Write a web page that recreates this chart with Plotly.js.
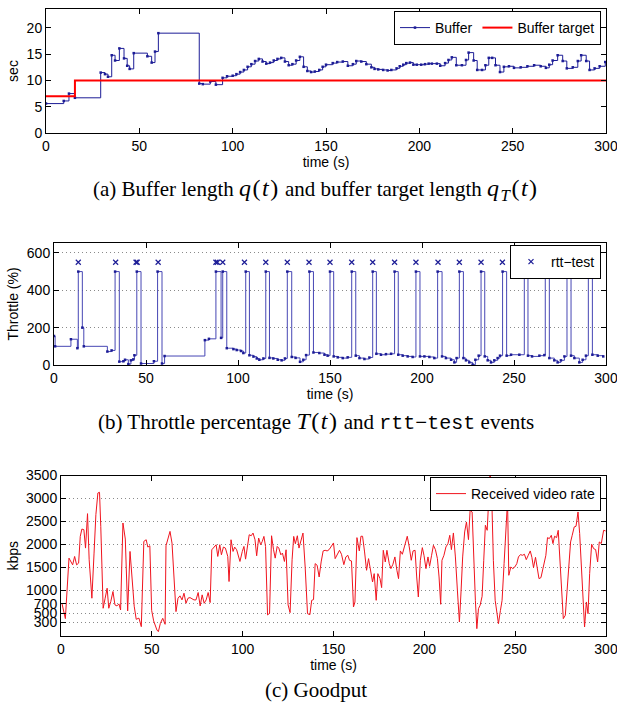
<!DOCTYPE html>
<html>
<head>
<meta charset="utf-8">
<script src="https://cdn.plot.ly/plotly-3.0.1.min.js"></script>
<style>
html,body{margin:0;padding:0;background:#fff;}
#chart{width:617px;height:705px;}
</style>
</head>
<body>
<div id="chart"></div>
<script>
// ---------- (a) Buffer length ----------
const bufferTime = [0, 9.5, 12.3, 15.5, 29.3, 31.6, 33.2, 35.2, 37, 39.3, 41.8, 43.5, 44.8, 47, 54.3, 56.6, 58.4, 60.2, 82.1, 84, 88, 91, 94.6, 97, 100, 102, 104, 106, 108, 110, 112, 114, 116, 118, 120, 122, 124, 126, 128, 130, 132, 134, 136, 138, 140, 142, 144, 146.4, 148.2, 150, 153.6, 156, 159, 161.7, 164.4, 166.2, 168.9, 171.6, 174.3, 176, 178, 180.6, 183, 185, 187.8, 189.5, 191.4, 193, 195, 196.8, 198.6, 201, 203, 205, 206.7, 209.4, 211.2, 213.8, 215.6, 217.4, 219.8, 222.8, 225, 226.4, 229.1, 231, 233.6, 235.4, 237.2, 239, 240.8, 243.2, 245.3, 248, 250.7, 254.3, 257.9, 261.5, 265, 267.8, 269.6, 271.4, 274.1, 276.8, 279, 282.2, 284.9, 286.7, 289.4, 291.2, 293.9, 296.6, 299.6];
const bufferSec = [5.6, 6.1, 7.5, 6.7, 11.5, 11.2, 10.7, 14.8, 13.8, 16.1, 14.2, 12.8, 12.2, 15.2, 14.6, 13.4, 15.5, 19.0, 9.4, 9.3, 9.8, 9.2, 10.5, 10.8, 10.9, 11.2, 11.6, 12.0, 12.6, 13.1, 13.7, 14.1, 13.6, 13.2, 13.4, 13.8, 14.1, 14.3, 13.6, 12.9, 13.1, 13.8, 14.5, 12.6, 11.8, 11.6, 11.7, 12.0, 12.6, 13.0, 13.3, 13.5, 13.6, 12.8, 13.1, 13.7, 13.6, 13.1, 12.5, 12.2, 12.1, 12.0, 11.9, 12.0, 12.3, 12.7, 13.0, 13.3, 13.4, 13.0, 13.0, 13.0, 13.1, 13.2, 13.2, 13.2, 12.8, 13.3, 13.9, 14.4, 12.9, 12.9, 13.9, 15.3, 13.8, 12.0, 12.0, 12.9, 14.3, 14.3, 12.9, 11.6, 12.6, 12.7, 12.4, 12.5, 12.7, 12.9, 12.7, 12.4, 13.0, 13.8, 14.8, 13.7, 12.3, 12.5, 13.7, 14.8, 13.7, 12.0, 12.3, 12.7, 13.5];
const targetTime = [0, 15.5, 300];
const targetSec = [7, 10, 10];

// ---------- (b) Throttle ----------
const throttleTime = [0, 0.6, 9.2, 12.7, 13.2, 15.4, 16.2, 29, 31.3, 33.2, 35.5, 37.7, 38.6, 40.4, 41.8, 43.1, 43.7, 45, 47.3, 54.3, 56.3, 58.7, 60.1, 82, 84.2, 88, 90.8, 91.7, 93.9, 97.5, 99.3, 101.6, 102.9, 104.2, 106.2, 108.4, 110.2, 111.6, 113.8, 115.1, 117.1, 119.2, 121.6, 123.7, 125.5, 126.8, 129.2, 131.3, 133.7, 135.5, 137, 138.8, 141, 144.2, 147, 148.7, 150, 152, 154.2, 156.9, 159.6, 161.8, 164, 166, 168.7, 171.4, 173.2, 175.2, 177.7, 180.4, 183.2, 185.1, 187.1, 189.5, 192.2, 194.9, 196.7, 198.9, 201.3, 204, 206.7, 208.5, 210.9, 213, 215.8, 217.6, 218.8, 220.3, 222.5, 223.9, 225.7, 227.5, 229, 230.8, 232.1, 234.1, 235.7, 237.5, 239.3, 241.1, 242.4, 243.8, 246, 248.4, 252.9, 255.6, 257.6, 259.8, 263.8, 266.5, 267, 269.2, 271.9, 273.7, 275.5, 277.4, 278.8, 281, 282.8, 285.5, 287.3, 289.1, 290.4, 292.6, 295.5, 298.5];
const throttlePct = [155, 100, 138, 90, 500, 200, 100, 72, 78, 500, 18, 20, 28, 5, 25, 30, 52, 500, 8, 20, 500, 8, 48, 133, 140, 500, 145, 500, 90, 85, 80, 75, 64, 500, 52, 45, 35, 28, 35, 500, 38, 35, 28, 25, 35, 500, 43, 38, 17, 28, 53, 500, 67, 64, 55, 50, 500, 46, 41, 37, 41, 500, 50, 37, 32, 40, 500, 60, 55, 58, 60, 500, 55, 50, 46, 43, 500, 46, 46, 43, 37, 500, 46, 37, 28, 14, 37, 500, 37, 25, 14, 2, 28, 50, 500, 46, 25, 14, 25, 37, 50, 500, 50, 55, 55, 500, 50, 46, 50, 53, 500, 37, 25, 14, 25, 46, 500, 50, 37, 14, 28, 50, 500, 55, 50, 46];
const rttTestTime = [13.2, 33.5, 44.6, 45.2, 56.6, 88, 88.8, 91.7, 103.5, 115.1, 126.8, 138.6, 150, 161.8, 173.2, 185.1, 196.7, 208.7, 220.3, 232.1, 243.7, 255.6, 267, 278.8, 290.4];
const rttTestLevel = rttTestTime.map(() => 550);

// ---------- (c) Goodput ----------
const rateTime = [0.5, 2.4, 4.4, 5.5, 6.4, 7.5, 8.6, 9.7, 10.6, 11.5, 12.6, 13.5, 14.6, 15.5, 17.0, 18.2, 19.2, 20.3, 21.2, 21.9, 23.2, 24.3, 25.4, 26.3, 27.4, 28.6, 29.7, 30.8, 31.9, 32.8, 34.1, 35.4, 36.7, 38.0, 39.2, 40.3, 41.4, 42.9, 44.2, 45.6, 46.9, 47.8, 48.9, 49.9, 51.0, 51.8, 52.8, 53.6, 54.7, 56.0, 57.3, 57.8, 59.1, 60.0, 61.1, 62.2, 63.3, 64.4, 65.5, 66.6, 67.7, 68.8, 69.9, 71.0, 72.1, 73.2, 74.3, 75.5, 76.6, 77.7, 78.8, 79.9, 81.0, 82.1, 83.0, 84.3, 85.4, 86.3, 87.4, 88.3, 89.4, 90.5, 91.8, 92.5, 93.6, 94.7, 95.6, 96.7, 97.6, 98.5, 99.8, 100.7, 101.6, 102.7, 103.6, 104.7, 105.7, 106.8, 107.7, 108.8, 109.9, 110.8, 111.7, 112.6, 113.7, 114.8, 115.9, 117.0, 117.9, 119.0, 119.9, 121.0, 121.9, 123.0, 123.9, 125.0, 126.1, 127.2, 128.1, 129.0, 130.1, 131.0, 132.1, 133.2, 134.4, 135.7, 137.0, 138.0, 139.0, 139.9, 141.0, 142.1, 143.2, 144.3, 145.4, 146.5, 147.6, 148.7, 150.0, 150.9, 152.2, 153.3, 154.4, 155.7, 156.8, 157.9, 158.8, 159.9, 161.0, 161.8, 162.9, 164.2, 165.1, 166.0, 167.1, 168.2, 169.3, 170.4, 171.5, 172.4, 173.5, 174.4, 175.6, 176.5, 177.4, 178.5, 179.4, 180.7, 181.6, 182.7, 183.8, 184.9, 185.8, 186.8, 187.9, 189.0, 189.9, 190.6, 191.7, 192.8, 193.8, 194.9, 195.8, 196.7, 197.8, 198.9, 199.8, 200.9, 202.0, 202.9, 204.0, 205.0, 206.1, 207.2, 208.1, 209.0, 209.7, 210.8, 211.9, 213.0, 214.0, 214.9, 216.0, 217.1, 218.2, 219.3, 220.2, 221.1, 222.2, 223.2, 224.3, 225.2, 226.3, 227.2, 228.1, 228.9, 229.8, 230.7, 231.8, 232.7, 233.6, 234.6, 235.5, 236.2, 237.1, 238.0, 239.0, 240.1, 240.8, 241.9, 242.8, 243.9, 244.9, 245.8, 246.5, 247.6, 248.7, 249.8, 250.9, 251.8, 252.9, 254.0, 255.1, 256.1, 257.2, 258.3, 259.2, 260.1, 261.2, 262.1, 263.1, 264.2, 265.1, 266.0, 266.9, 267.8, 268.8, 269.9, 270.8, 271.7, 272.8, 273.7, 274.6, 275.6, 276.5, 277.6, 278.5, 279.6, 280.5, 281.4, 282.5, 283.5, 284.6, 285.5, 286.4, 287.3, 288.2, 289.2, 290.1, 291.0, 292.1, 293.2, 294.3, 295.4, 296.3, 297.4, 298.7, 299.8];
const rateKbps = [714, 379, 1698, 1625, 1552, 1735, 1552, 1589, 2172, 2332, 2318, 1917, 2668, 1662, 824, 1808, 2646, 3119, 3134, 2391, 605, 824, 1042, 605, 751, 970, 678, 656, 700, 569, 2464, 2114, 547, 1844, 1152, 650, 364, 390, 204, 2063, 2099, 1939, 1968, 560, 330, 240, 131, 95, 277, 386, 255, 1968, 2172, 2281, 2026, 1115, 532, 824, 875, 787, 933, 714, 824, 838, 809, 787, 787, 948, 656, 897, 714, 787, 948, 729, 1880, 1931, 1990, 1735, 1990, 1771, 1939, 1917, 1735, 1188, 2099, 1844, 1939, 1880, 1771, 1625, 1844, 1953, 1676, 2026, 2208, 2186, 2245, 2099, 1749, 2136, 1990, 2063, 2172, 1953, 459, 496, 2186, 1880, 1698, 1953, 1917, 1771, 1808, 1625, 1880, 678, 510, 1662, 2172, 2012, 2186, 1917, 2063, 2245, 1505, 487, 465, 778, 793, 1578, 1542, 1287, 1615, 1855, 1869, 1855, 1884, 1942, 2029, 1687, 1796, 1869, 1782, 1556, 1724, 1760, 1651, 1636, 633, 742, 2145, 1855, 2175, 2175, 1833, 1433, 1687, 1433, 1178, 1360, 778, 1360, 1251, 1055, 1869, 1615, 1869, 1578, 1469, 1564, 1724, 1433, 1251, 1855, 1782, 1942, 2051, 2175, 1942, 1651, 1855, 1869, 1287, 851, 1651, 1927, 1760, 1469, 1724, 1520, 1760, 1978, 1884, 1687, 1287, 691, 1651, 1760, 1942, 2015, 2196, 1884, 2247, 1724, 996, 305, 960, 1724, 2269, 2487, 2102, 2742, 2705, 1651, 778, 160, 596, 669, 865, 1651, 2415, 2305, 2887, 3600, 3040, 1651, 778, 378, 269, 560, 778, 1578, 2487, 2960, 1324, 1505, 1469, 1505, 1578, 1724, 1775, 1760, 1782, 1665, 1760, 1855, 1716, 1491, 1716, 1505, 1251, 1273, 1433, 1615, 1760, 2145, 2124, 2196, 2015, 2175, 2145, 2305, 1651, 851, 378, 451, 996, 1651, 2051, 2196, 2378, 2393, 2705, 2233, 1433, 705, 196, 742, 487, 1360, 2000, 1905, 1884, 1615, 2051, 2015, 2305, 2291];

const timeTicks = [0, 50, 100, 150, 200, 250, 300];
const secTicks = [0, 5, 10, 15, 20];
const throttleTicks = [0, 200, 400, 600];
const kbpsTicks = [300, 500, 700, 1000, 1500, 2000, 2500, 3000, 3500];

// ---------- layout helpers (pixel based) ----------
const W = 617, H = 705;
const px = v => v / W;
const py = v => 1 - v / H;
const sansFont = {family: 'Liberation Sans, Arial, sans-serif', size: 14, color: '#000'};
const serif = 'Liberation Serif, Times New Roman, serif';
const navy = 'rgb(28,28,150)';

function xAxis(l, r, anchor) {
  return {
    domain: [px(l), px(r)], anchor: anchor, range: [0, 300], tickvals: timeTicks,
    ticks: 'inside', ticklen: 5, tickwidth: 1, tickcolor: '#000',
    showline: true, linecolor: '#000', linewidth: 1, mirror: 'ticks',
    showgrid: false, zeroline: false, tickfont: sansFont, ticklabeloverflow: 'allow',
    title: {text: 'time (s)', font: sansFont, standoff: 2}
  };
}
function yAxis(t, b, anchor, range, ticks, title, grid) {
  return {
    domain: [py(b), py(t)], anchor: anchor, range: range, tickvals: ticks,
    ticks: 'inside', ticklen: 5, tickwidth: 1, tickcolor: '#000',
    showline: true, linecolor: '#000', linewidth: 1, mirror: 'ticks',
    showgrid: grid, gridcolor: '#8a8a8a', griddash: '1px,3px', gridwidth: 1,
    zeroline: false, tickfont: sansFont, ticklabeloverflow: 'allow',
    title: {text: title, font: sansFont, standoff: 4}
  };
}

const traces = [
  {x: bufferTime, y: bufferSec, name: 'Buffer', type: 'scatter', mode: 'lines+markers',
   line: {shape: 'hv', color: navy, width: 1}, marker: {size: 2.5, color: navy, symbol: 'square'},
   xaxis: 'x', yaxis: 'y', legend: 'legend'},
  {x: targetTime, y: targetSec, name: 'Buffer target', type: 'scatter', mode: 'lines',
   line: {shape: 'hv', color: 'rgb(255,0,0)', width: 2},
   xaxis: 'x', yaxis: 'y', legend: 'legend'},
  {x: throttleTime, y: throttlePct, name: 'Throttle', type: 'scatter', mode: 'lines+markers',
   line: {shape: 'hv', color: 'rgb(70,70,180)', width: 1}, marker: {size: 2.5, color: navy, symbol: 'square'},
   xaxis: 'x2', yaxis: 'y2', showlegend: false},
  {x: rttTestTime, y: rttTestLevel, name: 'rtt\u2212test', type: 'scatter', mode: 'markers',
   marker: {symbol: 'x-thin', size: 5, line: {color: navy, width: 1.2}, color: navy},
   xaxis: 'x2', yaxis: 'y2', legend: 'legend2'},
  {x: rateTime, y: rateKbps, name: 'Received video rate', type: 'scatter', mode: 'lines',
   line: {color: 'rgb(240,20,30)', width: 1},
   xaxis: 'x3', yaxis: 'y3', legend: 'legend3'}
];

function legendAt(right, top) {
  return {x: px(right), y: py(top), xanchor: 'right', yanchor: 'top', orientation: 'h',
    bgcolor: '#fff', bordercolor: '#000', borderwidth: 1,
    font: {family: 'Liberation Sans, Arial, sans-serif', size: 14, color: '#000'},
    itemwidth: 30, tracegroupgap: 0};
}

const mathStyle = 'font-size:24px;letter-spacing:1.5px';
const M = s => '<span style="' + mathStyle + '">' + s + '</span>';

const layout = {
  width: W, height: H, margin: {l: 0, r: 0, t: 0, b: 0},
  paper_bgcolor: '#fff', plot_bgcolor: '#fff', showlegend: true,
  xaxis: xAxis(46, 606, 'y'),
  yaxis: yAxis(9, 133, 'x', [0, 23.6], secTicks, 'sec', false),
  xaxis2: xAxis(54, 606, 'y2'),
  yaxis2: yAxis(243, 365, 'x2', [0, 653], throttleTicks, 'Throttle (%)', true),
  xaxis3: xAxis(61, 606, 'y3'),
  yaxis3: yAxis(475.5, 636, 'x3', [0, 3500], kbpsTicks, 'kbps', true),
  legend: legendAt(601, 11),
  legend2: legendAt(601, 245),
  legend3: legendAt(601, 477),
  annotations: [
    {text: '(a) Buffer length ' + M('<i>q</i>(<i>t</i>)') + ' and buffer target length ' + M('<i>q</i><sub><i>T</i></sub>(<i>t</i>)'),
     x: px(316), y: py(190), xref: 'paper', yref: 'paper', showarrow: false,
     xanchor: 'center', yanchor: 'middle', font: {family: serif, size: 21, color: '#000'}},
    {text: '(b) Throttle percentage ' + M('<i>T</i>(<i>t</i>)') + ' and <span style="font-family:Liberation Mono,Courier New,monospace;font-size:20px">rtt\u2212test</span> events',
     x: px(316), y: py(421), xref: 'paper', yref: 'paper', showarrow: false,
     xanchor: 'center', yanchor: 'middle', font: {family: serif, size: 21, color: '#000'}},
    {text: '(c) Goodput',
     x: px(316), y: py(690), xref: 'paper', yref: 'paper', showarrow: false,
     xanchor: 'center', yanchor: 'middle', font: {family: serif, size: 21, color: '#000'}}
  ]
};

Plotly.newPlot('chart', traces, layout, {displayModeBar: false, staticPlot: true});
</script>
</body>
</html>
